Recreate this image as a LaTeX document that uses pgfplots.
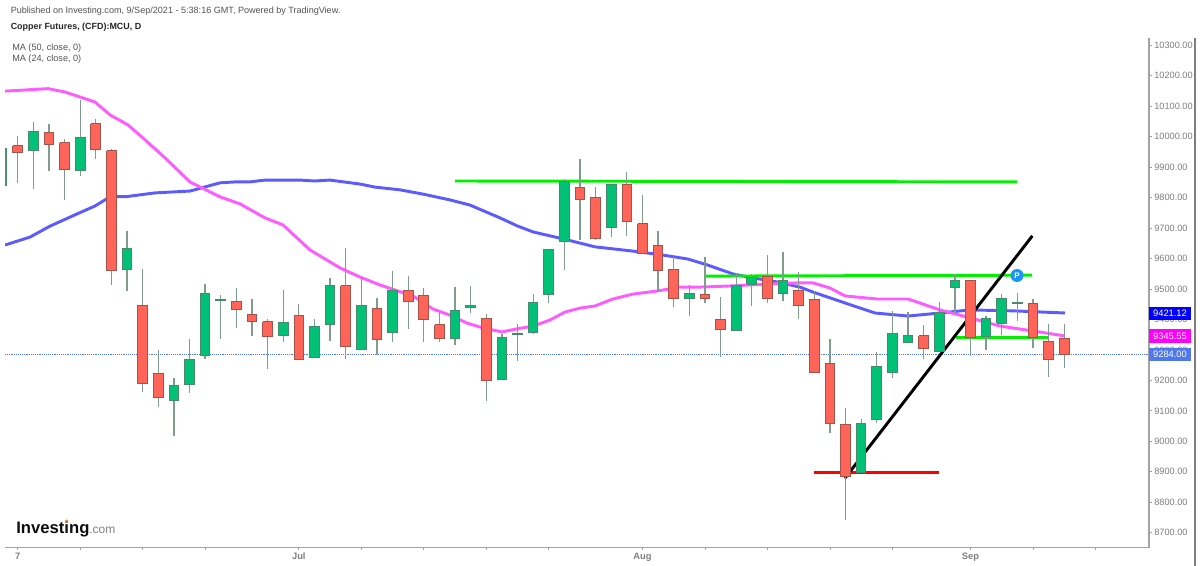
\documentclass[border=0pt]{standalone}
\usepackage{fontspec}
\setmainfont{Liberation Sans}
\usepackage{pgfplots}
\pgfplotsset{compat=1.18}
\definecolor{upf}{HTML}{00C176}
\definecolor{upe}{HTML}{4A8A6C}
\definecolor{dnf}{HTML}{FF6459}
\definecolor{dne}{HTML}{A5524A}
\definecolor{wick}{HTML}{7F9C8C}
\definecolor{ma50}{HTML}{5B5BFF}
\definecolor{ma24}{HTML}{FF5CFF}
\definecolor{trend}{HTML}{00F000}
\definecolor{axisg}{HTML}{A3A3A3}
\definecolor{tickg}{HTML}{7E7E7E}
\definecolor{lastp}{HTML}{5078EE}
\definecolor{labblue}{HTML}{0000FF}
\definecolor{labmag}{HTML}{FF00FF}
\definecolor{pcirc}{HTML}{1A96F0}
\newcommand\candle[7]{%
  \pgfmathsetmacro\xl{#3-0.31}\pgfmathsetmacro\xr{#3+0.31}%
  \edef\tmp{\noexpand\addplot[forget plot,draw=wick,line width=0.95pt] coordinates {(#3,#5)(#3,#6)};
    \noexpand\addplot[forget plot,fill=#1,draw=#2,line width=0.75pt,line join=miter] coordinates {(\xl,#4)(\xr,#4)(\xr,#7)(\xl,#7)(\xl,#4)};}%
  \tmp}
\newcommand\U[5]{\candle{upf}{upe}{#1}{#2}{#3}{#4}{#5}}
\newcommand\D[5]{\candle{dnf}{dne}{#1}{#2}{#3}{#4}{#5}}
\begin{document}
\begin{tikzpicture}
\path[use as bounding box] (0pt,-424.5pt) rectangle (900pt,0pt);
\begin{axis}[
  at={(3.75pt,-410.625pt)},anchor=south west,
  scale only axis,width=858pt,height=382.1pt,
  xmin=-0.813,xmax=72.43,ymin=8651.7,ymax=10323,
  axis x line=bottom,axis y line=right,
  axis line style={-,draw=axisg,line width=0.9pt},
  tick align=outside,
  major tick length=2.2pt,
  tick style={draw=axisg,line width=0.6pt},
  xtick={0,4,8,12,18,22,26,30,34,40,44,48,52,56,61,65,69},
  xticklabels={7,,,,Jul,,,,,Aug,,,,,Sep,,},
  x tick label style={font=\fontsize{7}{8}\selectfont\bfseries,text=tickg,inner sep=1pt,yshift=-0.6pt},
  ytick={8700,8800,8900,9000,9100,9200,9300,9400,9500,9600,9700,9800,9900,10000,10100,10200,10300},
  y tick label style={font=\fontsize{6.9}{8}\selectfont,text=tickg,inner sep=1.2pt,xshift=0.4pt},
  yticklabel style={/pgf/number format/.cd,fixed,fixed zerofill,precision=2,1000 sep={},assume math mode=true},
  scaled y ticks=false,
]
% last price
\addplot[forget plot,draw=lastp,line width=0.4pt,densely dotted] coordinates {(-0.813,9284)(72.43,9284)};
% MA 50
\addplot[forget plot,draw=ma50,line width=2.2pt,line join=round] coordinates {
(-0.81,9644)(0.79,9670)(2.07,9706)(3.67,9743)(4.95,9772)(5.91,9802)(7.0,9803)(8.79,9815)(11.03,9821)(12.95,9848)(13.91,9851)(14.87,9851)(15.83,9857)(18.07,9857)(19.03,9854)(19.99,9857)(21.91,9844)(22.87,9834)(24.47,9825)(25.95,9811)(27.67,9792)(28.96,9775)(30.88,9733)(31.97,9707)(32.99,9687)(35.17,9661)(36.96,9638)(39.39,9624)(41.31,9611)(42.91,9598)(44.13,9579)(45.8,9549)(47.07,9536)(48.6,9523)(50.08,9506)(50.9,9490)(52.96,9454)(54.88,9421)(57.0,9411)(59.05,9421)(60.97,9431)(63.72,9428)(67.05,9421)};
% MA 24
\addplot[forget plot,draw=ma24,line width=2.2pt,line join=round] coordinates {
(-0.81,10149)(-0.04,10151)(1.94,10157)(3.03,10146)(4.95,10113)(5.91,10071)(7.06,10038)(8.15,9989)(9.43,9930)(11.03,9851)(12.95,9802)(14.23,9779)(15.83,9733)(16.98,9710)(18.71,9628)(20.63,9569)(21.91,9539)(23.19,9513)(24.47,9491)(25.31,9477)(26.59,9434)(27.67,9414)(28.76,9388)(29.79,9372)(31.0,9359)(31.97,9369)(32.99,9378)(34.08,9398)(35.04,9424)(36.0,9437)(36.96,9444)(38.11,9467)(39.39,9483)(40.93,9493)(42.4,9506)(43.68,9506)(45.8,9510)(47.97,9516)(50.08,9520)(50.9,9520)(52.0,9503)(52.96,9477)(55.01,9467)(57.0,9467)(59.05,9431)(60.97,9405)(62.9,9378)(65.0,9362)(66.99,9346)};
% drawn lines
\addplot[forget plot,draw=trend,line width=2.2pt] coordinates {(28.0,9854)(63.98,9851)};
\addplot[forget plot,draw=trend,line width=2.2pt] coordinates {(44.0,9542)(64.94,9545)};
\addplot[forget plot,draw=trend,line width=2.2pt] coordinates {(60.05,9340)(65.96,9340)};
\addplot[forget plot,draw=red,line width=2.2pt] coordinates {(50.98,8897)(58.96,8897)};
\addplot[forget plot,draw=black,line width=2.2pt] coordinates {(52.96,8879)(64.96,9674)};
% candles: index, open, high, low, close
\U{-1}{9838}{9962}{9838}{9962}
\D{0}{9969}{10002}{9848}{9947}
\U{1}{9955}{10048}{9829}{10017}
\D{2}{10012}{10040}{9887}{9973}
\D{3}{9980}{9991}{9792}{9893}
\U{4}{9888}{10120}{9871}{9996}
\D{5}{10041}{10057}{9927}{9957}
\D{6}{9953}{9959}{9514}{9559}
\U{7}{9564}{9689}{9493}{9634}
\D{8}{9446}{9564}{9162}{9189}
\D{9}{9221}{9300}{9114}{9145}
\U{10}{9135}{9208}{9016}{9184}
\U{11}{9186}{9335}{9159}{9269}
\U{12}{9280}{9516}{9271}{9486}
\U{13}{9462}{9479}{9336}{9464}
\D{14}{9459}{9503}{9373}{9432}
\D{15}{9417}{9467}{9347}{9392}
\D{16}{9392}{9400}{9238}{9343}
\U{17}{9347}{9495}{9325}{9390}
\D{18}{9413}{9450}{9269}{9269}
\U{19}{9274}{9401}{9272}{9376}
\U{20}{9382}{9536}{9330}{9511}
\D{21}{9511}{9634}{9271}{9310}
\U{22}{9301}{9540}{9301}{9446}
\D{23}{9435}{9469}{9283}{9333}
\U{24}{9356}{9560}{9325}{9496}
\D{25}{9496}{9543}{9369}{9458}
\D{26}{9479}{9502}{9325}{9400}
\D{27}{9382}{9422}{9327}{9336}
\U{28}{9336}{9506}{9315}{9428}
\U{29}{9438}{9510}{9421}{9446}
\D{30}{9404}{9418}{9133}{9199}
\U{31}{9204}{9352}{9203}{9341}
\U{32}{9351}{9385}{9264}{9353}
\U{33}{9358}{9484}{9351}{9457}
\U{34}{9481}{9629}{9455}{9629}
\U{35}{9655}{9860}{9563}{9853}
\D{36}{9832}{9925}{9661}{9792}
\D{37}{9801}{9833}{9661}{9665}
\U{38}{9701}{9841}{9670}{9841}
\D{39}{9843}{9884}{9673}{9720}
\D{40}{9714}{9807}{9615}{9615}
\D{41}{9644}{9691}{9489}{9559}
\D{42}{9564}{9604}{9442}{9470}
\U{43}{9470}{9513}{9412}{9484}
\D{44}{9481}{9605}{9455}{9467}
\D{45}{9400}{9473}{9276}{9368}
\U{46}{9363}{9553}{9363}{9511}
\U{47}{9516}{9548}{9445}{9537}
\D{48}{9542}{9610}{9453}{9468}
\U{49}{9484}{9621}{9461}{9526}
\D{50}{9496}{9555}{9400}{9446}
\D{51}{9466}{9493}{9225}{9225}
\D{52}{9254}{9337}{9026}{9058}
\D{53}{9056}{9108}{8742}{8886}
\U{54}{8898}{9074}{8898}{9058}
\U{55}{9070}{9294}{9059}{9245}
\U{56}{9225}{9429}{9207}{9354}
\U{57}{9325}{9423}{9322}{9347}
\D{58}{9347}{9381}{9271}{9304}
\U{59}{9296}{9457}{9294}{9422}
\U{60}{9504}{9549}{9422}{9529}
\D{61}{9529}{9529}{9280}{9339}
\U{62}{9343}{9411}{9300}{9404}
\U{63}{9387}{9483}{9349}{9467}
\U{64}{9452}{9487}{9395}{9457}
\D{65}{9452}{9468}{9306}{9341}
\D{66}{9328}{9385}{9212}{9267}
\D{67}{9336}{9385}{9240}{9286}
\end{axis}
\begin{scope}[x=0.75pt,y=-0.75pt]
\draw[color=tickg,line width=0.9pt] (1195,38) -- (1195,566);
% header
\node[anchor=west,inner sep=0pt,text=black!68,font=\fontsize{6.8}{8}\selectfont] at (10.5,11.5) {Published on Investing.com, 9/Sep/2021 - 5:38:16 GMT, Powered by TradingView.};
\node[anchor=west,inner sep=0pt,text=black!85,font=\fontsize{6.7}{8}\selectfont\bfseries] at (10.5,27) {Copper Futures, (CFD):MCU, D};
\node[anchor=west,inner sep=0pt,text=black!68,font=\fontsize{6.85}{8}\selectfont] at (12,48) {MA (50, close, 0)};
\node[anchor=west,inner sep=0pt,text=black!68,font=\fontsize{6.85}{8}\selectfont] at (12,59) {MA (24, close, 0)};
% logo
\node[anchor=base west,inner sep=0pt,text=black!95,font=\fontsize{12.5}{14}\selectfont\bfseries] (inv) at (16,533) {Investing};
\node[anchor=base west,inner sep=0pt,text=black!50,font=\fontsize{9}{10}\selectfont] at (89,533) {.com};
\fill[orange] (66.7,520.8) circle (1.5);
% last value labels
\fill[labblue] (1149,306.7) rectangle (1190.7,320);
\node[text=white,inner sep=0pt,font=\fontsize{7}{8}\selectfont] at (1170,313.3) {9421.12};
\fill[labmag] (1149,329.3) rectangle (1190.7,343.3);
\node[text=white,inner sep=0pt,font=\fontsize{7}{8}\selectfont] at (1170,336.3) {9345.55};
\fill[lastp] (1149,348.3) rectangle (1190.7,361);
\node[text=white,inner sep=0pt,font=\fontsize{7}{8}\selectfont] at (1170,354.7) {9284.00};
% P marker
\fill[pcirc] (1017,275.5) circle (6.5);
\node[text=white,inner sep=0pt,font=\fontsize{6}{7}\selectfont\bfseries] at (1017,275.5) {P};
\end{scope}
\end{tikzpicture}
\end{document}
